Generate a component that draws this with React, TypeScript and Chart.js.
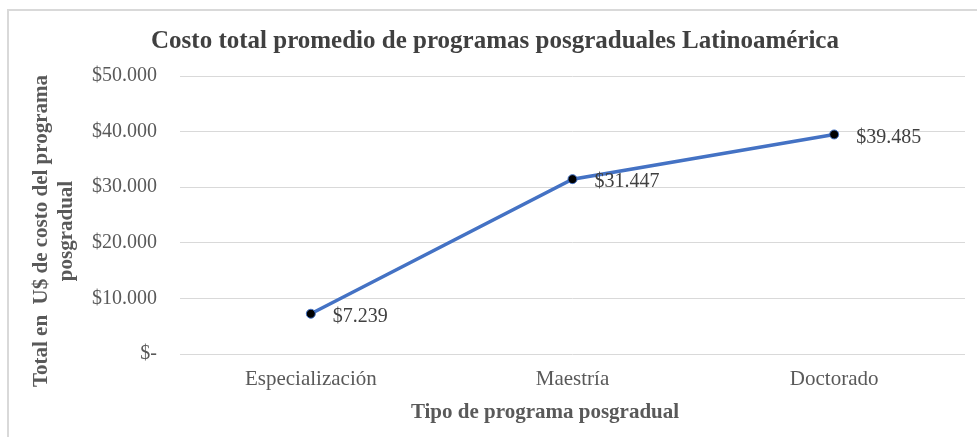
import React, { useEffect, useRef } from "react";
import { Chart, registerables } from "chart.js";

Chart.register(...registerables);

const categories = ["Especialización", "Maestría", "Doctorado"];
const costValues = [7239, 31447, 39485];
const yTickValues = [0, 10000, 20000, 30000, 40000, 50000];

const chartTitle = "Costo total promedio de programas posgraduales Latinoamérica";
const xAxisTitle = "Tipo de programa posgradual";
const yAxisTitleLines = ["Total en  U$ de costo del programa", "posgradual"];

const FONT = "'Liberation Serif', 'Times New Roman', serif";

function fmt(v: number): string {
  if (v === 0) return "$-";
  const s = Math.round(v).toString().replace(/\B(?=(\d{3})+(?!\d))/g, ".");
  return "$" + s;
}

const textPlugin = {
  id: "customTexts",
  afterDraw(chart: any) {
    const ctx = chart.ctx;
    ctx.save();
    // title
    ctx.fillStyle = "#404040";
    ctx.font = `bold 25px ${FONT}`;
    ctx.textAlign = "center";
    ctx.textBaseline = "middle";
    ctx.fillText(chartTitle, 495, 42);
    // x axis title
    ctx.fillStyle = "#595959";
    ctx.font = `bold 21px ${FONT}`;
    ctx.fillText(xAxisTitle, 545, 413);
    // y axis title
    ctx.translate(0, 231);
    ctx.rotate(-Math.PI / 2);
    ctx.fillText(yAxisTitleLines[0], 0, 42);
    ctx.fillText(yAxisTitleLines[1], 0, 67);
    ctx.restore();
  },
  afterDatasetsDraw(chart: any) {
    const ctx = chart.ctx;
    const meta = chart.getDatasetMeta(0);
    ctx.save();
    ctx.fillStyle = "#404040";
    ctx.font = `20px ${FONT}`;
    ctx.textAlign = "left";
    ctx.textBaseline = "middle";
    meta.data.forEach((pt: any, i: number) => {
      ctx.fillText(fmt(costValues[i]), pt.x + 22, pt.y + 3);
    });
    ctx.restore();
  },
};

export default function App() {
  const ref = useRef<HTMLCanvasElement | null>(null);
  useEffect(() => {
    if (!ref.current) return;
    const chart = new Chart(ref.current, {
      type: "line",
      data: {
        labels: categories,
        datasets: [
          {
            data: costValues,
            borderColor: "#4472C4",
            borderWidth: 3.5,
            pointBackgroundColor: "#000000",
            pointBorderColor: "#4472C4",
            pointBorderWidth: 1,
            pointRadius: 4.5,
            tension: 0,
          },
        ],
      },
      options: {
        animation: false,
        responsive: false,
        maintainAspectRatio: false,
        layout: { padding: { left: 0, top: 76, right: 12, bottom: 0 } },
        plugins: {
          legend: { display: false },
          title: { display: false },
          tooltip: { enabled: false },
        },
        scales: {
          x: {
            offset: true,
            grid: { display: false, drawTicks: false },
            border: { display: false },
            ticks: {
              color: "#595959",
              font: { family: FONT, size: 21 },
              padding: 13,
            },
            afterFit(scale: any) {
              scale.height = 83;
            },
          },
          y: {
            min: 0,
            max: 50000,
            grid: { color: "#d9d9d9", lineWidth: 1, drawTicks: false },
            border: { display: false },
            afterBuildTicks(scale: any) {
              scale.ticks = yTickValues.map((v) => ({ value: v }));
            },
            ticks: {
              color: "#595959",
              font: { family: FONT, size: 20 },
              padding: 23,
              callback: (v: any) => fmt(Number(v)),
            },
            afterFit(scale: any) {
              scale.width = 180;
            },
          },
        },
      },
      plugins: [textPlugin],
    });
    return () => chart.destroy();
  }, []);
  return (
    <div style={{ position: "fixed", left: 0, top: 0, width: 977, height: 437, background: "#fff", overflow: "hidden" }}>
      <div
        style={{
          position: "absolute",
          left: 7,
          top: 9,
          width: 990,
          height: 450,
          borderLeft: "2px solid #d9d9d9",
          borderTop: "2px solid #d9d9d9",
        }}
      />
      <canvas ref={ref} width={977} height={437} style={{ position: "absolute", left: 0, top: 0, width: 977, height: 437 }} />
    </div>
  );
}
